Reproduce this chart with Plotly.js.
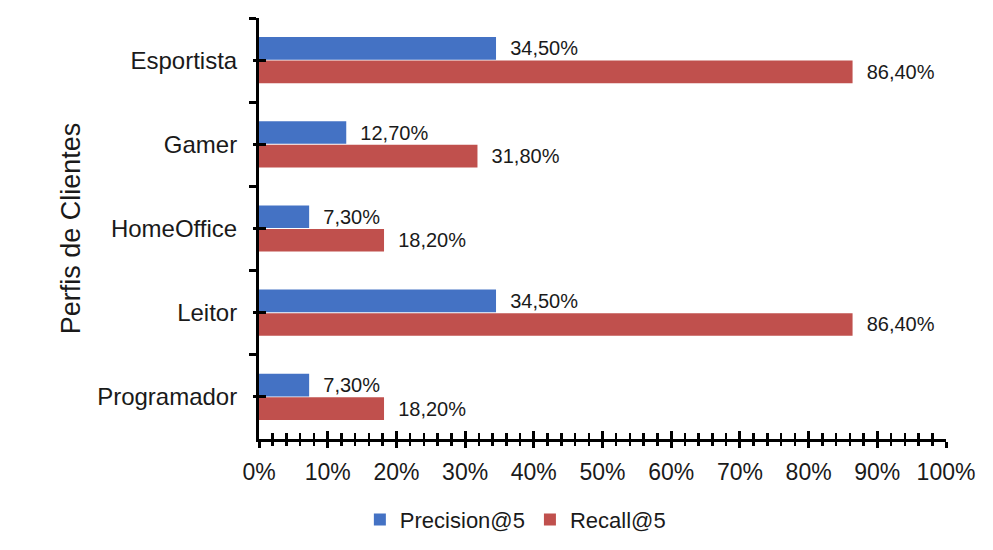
<!DOCTYPE html>
<html>
<head>
<meta charset="utf-8">
<script src="https://cdn.plot.ly/plotly-3.0.1.min.js"></script>
<style>
  html, body { margin: 0; padding: 0; background: #fff; }
  #chart { width: 993px; height: 550px; }
</style>
</head>
<body>
<div id="chart"></div>
<script>
// Perfis de clientes, top to bottom
const perfis = ['Esportista', 'Gamer', 'HomeOffice', 'Leitor', 'Programador'];
const precision5 = [0.345, 0.127, 0.073, 0.345, 0.073];
const recall5 = [0.864, 0.318, 0.182, 0.864, 0.182];

const FONT = 'Liberation Sans, Arial, sans-serif';
const NB = '\u00a0\u00a0';

const bars = [
  {
    type: 'bar', orientation: 'h', name: 'Precision@5',
    y: perfis, x: precision5,
    marker: { color: '#4472C4' },
    texttemplate: NB + '%{x:.2%}', textposition: 'outside', cliponaxis: false,
    textfont: { size: 20, color: '#1a1a1a' }
  },
  {
    type: 'bar', orientation: 'h', name: 'Recall@5',
    y: perfis, x: recall5,
    marker: { color: '#C0504D' },
    texttemplate: NB + '%{x:.2%}', textposition: 'outside', cliponaxis: false,
    textfont: { size: 20, color: '#1a1a1a' }
  }
];

// invisible helpers so the overlay axes (crossing tick marks) get drawn
function helper(xa, ya) {
  return { type: 'scatter', mode: 'none', x: recall5, y: perfis, xaxis: xa, yaxis: ya,
           showlegend: false, hoverinfo: 'skip' };
}
const data = bars.concat([helper('x2', 'y'), helper('x', 'y2'), helper('x', 'y3')]);

const axisBase = { showgrid: false, zeroline: false, fixedrange: true };

const layout = {
  width: 993, height: 550,
  paper_bgcolor: '#fff', plot_bgcolor: '#fff',
  font: { family: FONT, color: '#1a1a1a' },
  separators: ',.',
  margin: { l: 259, r: 47, t: 18, b: 111 },
  barmode: 'group', bargap: 0.44, bargroupgap: 0.04,
  showlegend: true,
  legend: {
    orientation: 'h', xref: 'container', yref: 'container',
    x: 0.519, xanchor: 'center', y: 0.055, yanchor: 'middle',
    font: { size: 22 }, itemwidth: 30, traceorder: 'normal'
  },
  xaxis: Object.assign({}, axisBase, {
    range: [0, 1], dtick: 0.1, tickformat: '.0%',
    showline: true, linecolor: '#000', linewidth: 3,
    ticks: 'outside', ticklen: 6, tickwidth: 3, tickcolor: '#000',
    tickfont: { size: 23 }, ticklabelstandoff: 4,
    minor: { dtick: 0.02, ticks: 'outside', ticklen: 4, tickwidth: 2.5, tickcolor: '#000' }
  }),
  xaxis2: Object.assign({}, axisBase, {
    overlaying: 'x', anchor: 'y', side: 'bottom', range: [0, 1], dtick: 0.1,
    showticklabels: false, showline: false,
    ticks: 'inside', ticklen: 8, tickwidth: 3, tickcolor: '#000',
    minor: { dtick: 0.02, ticks: 'inside', ticklen: 6, tickwidth: 2.5, tickcolor: '#000' }
  }),
  yaxis: Object.assign({}, axisBase, {
    type: 'category', categoryarray: perfis, range: [4.5, -0.5],
    showline: true, linecolor: '#000', linewidth: 3,
    ticks: 'outside', tickson: 'boundaries', ticklen: 7, tickwidth: 3, tickcolor: '#000',
    tickfont: { size: 24 }, ticklabelstandoff: 14,
    title: { text: 'Perfis de Clientes', font: { size: 27 }, standoff: 9 }
  }),
  yaxis2: Object.assign({}, axisBase, {
    type: 'category', categoryarray: perfis, overlaying: 'y', anchor: 'x', side: 'left',
    range: [4.5, -0.5], showticklabels: false, showline: false,
    ticks: 'inside', ticklen: 7, tickwidth: 3, tickcolor: '#000'
  }),
  yaxis3: Object.assign({}, axisBase, {
    type: 'category', categoryarray: perfis, overlaying: 'y', anchor: 'x', side: 'left',
    range: [4.5, -0.5], showticklabels: false, showline: false,
    ticks: 'outside', ticklen: 5, tickwidth: 3, tickcolor: '#000'
  })
};

Plotly.newPlot('chart', data, layout, { displayModeBar: false, staticPlot: true });
</script>
</body>
</html>
